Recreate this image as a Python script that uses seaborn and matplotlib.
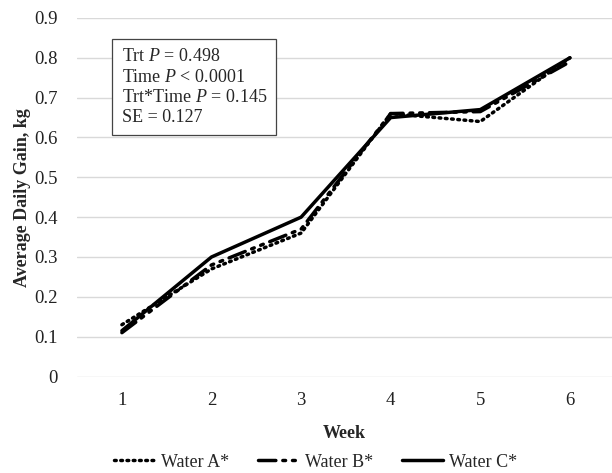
import matplotlib
matplotlib.use("Agg")
import matplotlib.pyplot as plt
import seaborn as sns
import pandas as pd
from matplotlib.lines import Line2D

weeks = [1, 2, 3, 4, 5, 6]
water_a = [0.13, 0.27, 0.36, 0.66, 0.64, 0.80]
water_b = [0.11, 0.28, 0.37, 0.66, 0.665, 0.79]
water_c = [0.115, 0.30, 0.40, 0.65, 0.67, 0.80]
series_names = ["Water A*", "Water B*", "Water C*"]
yticks = [0, 0.1, 0.2, 0.3, 0.4, 0.5, 0.6, 0.7, 0.8, 0.9]
ytick_labels = ["0", "0.1", "0.2", "0.3", "0.4", "0.5", "0.6", "0.7", "0.8", "0.9"]
stats_lines = ["Trt $P$ = 0.498", "Time $P$ < 0.0001", "Trt*Time $P$ = 0.145", "SE = 0.127"]

sns.set_style("white")
plt.rcParams["font.family"] = ["Liberation Serif", "DejaVu Serif"]
plt.rcParams["mathtext.fontset"] = "custom"
plt.rcParams["mathtext.it"] = "Liberation Serif:italic"
plt.rcParams["mathtext.rm"] = "Liberation Serif"

df = pd.DataFrame({
    "Week": weeks * 3,
    "ADG": water_a + water_b + water_c,
    "Treatment": [series_names[0]] * 6 + [series_names[1]] * 6 + [series_names[2]] * 6,
})

fig = plt.figure(figsize=(6.12, 4.73), dpi=100)
ax = fig.add_axes([0.126, 0.204, 0.874, 0.758])

dot = (0.5, 1.3)
dashdotdot = (5, 2, 0.8, 2, 0.8, 2)
dashes = {series_names[0]: dot, series_names[1]: dashdotdot, series_names[2]: ""}
sns.lineplot(data=df, x="Week", y="ADG", hue="Treatment", style="Treatment",
             dashes=dashes, palette=["black"] * 3, linewidth=2.5, ax=ax, legend=False)
for ln in ax.get_lines():
    ln.set_dash_capstyle("round")

ax.set_xlim(0.5, 6.47)
ax.set_ylim(0, 0.9)
ax.set_yticks(yticks)
ax.set_yticklabels(ytick_labels)
ax.set_xticks(weeks)
ax.set_xticklabels([str(w) for w in weeks])
ax.tick_params(axis="both", length=0, labelsize=13.5, colors="#222222")
ax.tick_params(axis="y", pad=14)
ax.tick_params(axis="x", pad=11)
ax.grid(axis="y", color="#d9d9d9", linewidth=1)
ax.set_axisbelow(True)
for s in ax.spines.values():
    s.set_visible(False)

ax.set_xlabel("Week", fontsize=13, fontweight="bold", labelpad=12)
ax.set_ylabel("Average Daily Gain, kg", fontsize=13, fontweight="bold", labelpad=2)

ax.text(0.083, 0.915, "\n".join(stats_lines), transform=ax.transAxes, fontsize=13,
        va="top", ha="left", linespacing=1.25,
        bbox=dict(boxstyle="square,pad=0.5", facecolor="white", edgecolor="#444444", linewidth=0.9))

handles = []
for pat in [dot, dashdotdot, None]:
    h = Line2D([], [], color="black", linewidth=2.5)
    if pat is not None:
        h.set_dashes(pat)
    h.set_dash_capstyle("round")
    handles.append(h)
fig.legend(handles, series_names, loc="center", bbox_to_anchor=(0.515, 0.023), ncol=3,
           frameon=False, fontsize=13, handlelength=2.3, handletextpad=0.3, columnspacing=1.6)

fig.savefig("out.png", dpi=100)
